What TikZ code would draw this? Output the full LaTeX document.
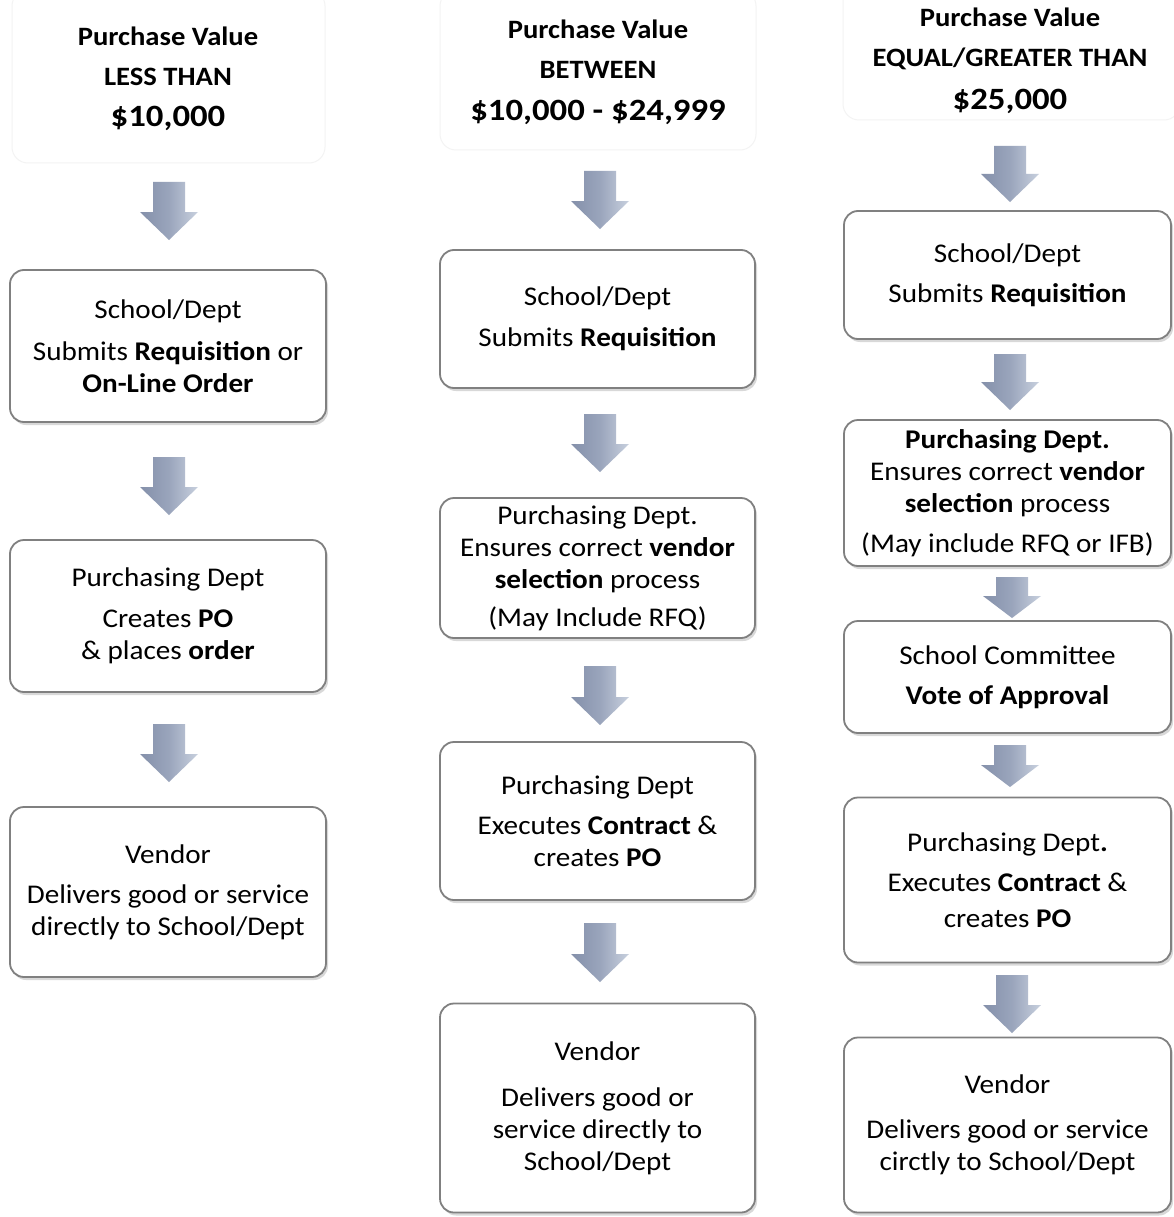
\documentclass[tikz,border=0pt]{standalone}
\usepackage{fontspec}
\setmainfont{Carlito}[FakeStretch=1.08]
\newfontfamily\dollarfont{Carlito}[FakeStretch=1.12]
\usetikzlibrary{shadows}
\definecolor{boxline}{HTML}{808080}
\definecolor{arrowL}{HTML}{8490AA}
\definecolor{arrowM}{HTML}{9AA5BC}
\definecolor{arrowR}{HTML}{C8D0DE}
\definecolor{titleframe}{HTML}{F3F3F3}
% block arrow: name, x centre, y top, y bottom, head height
\newcommand\blockarrow[5]{%
  \shade[left color=arrowL, right color=arrowR, middle color=arrowM]
    ({#2-16},{#3}) -- ({#2+16},{#3}) -- ({#2+16},{#4-#5}) -- ({#2+29},{#4-#5})
    -- ({#2},{#4}) -- ({#2-29},{#4-#5}) -- ({#2-16},{#4-#5}) -- cycle;
  \coordinate (#1) at ({#2},{(#3+#4)/2});}
\begin{document}
\begin{tikzpicture}[x=1pt,y=-1pt,
  stepbox/.style={draw=boxline, line width=1.8pt, rounded corners=14pt, fill=white,
    align=center, inner sep=0pt, font=\fontsize{27}{32}\selectfont,
    drop shadow={shadow xshift=2pt, shadow yshift=-3pt, opacity=0.3}},
  titletext/.style={align=center, inner sep=0pt, font=\bfseries\fontsize{26.5}{40}\selectfont}
]
\useasboundingbox (0,0) rectangle (1173,1217);
\fill[white] (0,0) rectangle (1173,1217);

% faint title frames
\draw[titleframe, line width=1pt, rounded corners=16pt] (12,-10) rectangle (325,163);
\draw[titleframe, line width=1pt, rounded corners=16pt] (440,-10) rectangle (756,150);
\draw[titleframe, line width=1pt, rounded corners=16pt] (843,-20) rectangle (1180,120);

% ---------- Column 1 ----------
\node[titletext] (t1) at (168,79) {Purchase Value\\LESS THAN\\[1pt]{\dollarfont\fontsize{31}{40}\selectfont \$10,000}};
\node[stepbox, minimum width=316pt, minimum height=152pt] (b11) at (168,346)
  {School/Dept\\[10pt]Submits \textbf{Requisition} or\\\textbf{On-Line Order}};
\node[stepbox, minimum width=316pt, minimum height=152pt] (b12) at (168,616)
  {Purchasing Dept\\[9pt]Creates \textbf{PO}\\\& places \textbf{order}};
\node[stepbox, minimum width=316pt, minimum height=170pt] (b13) at (168,892)
  {Vendor\\[8pt]Delivers good or service\\directly to School/Dept};
\blockarrow{a10}{169}{182}{240}{28}
\blockarrow{a11}{169}{457}{515}{28}
\blockarrow{a12}{169}{724}{782}{28}

% ---------- Column 2 ----------
\node[titletext] (t2) at (598,72) {Purchase Value\\BETWEEN\\[2pt]{\dollarfont\fontsize{31}{40}\selectfont \$10,000 - \$24,999}};
\node[stepbox, minimum width=315pt, minimum height=138pt] (b21) at (597.5,319)
  {School/Dept\\[9pt]Submits \textbf{Requisition}};
\node[stepbox, minimum width=315pt, minimum height=140pt] (b22) at (597.5,568)
  {Purchasing Dept.\\Ensures correct \textbf{vendor}\\\textbf{selection} process\\[6pt](May Include RFQ)};
\node[stepbox, minimum width=315pt, minimum height=158pt] (b23) at (597.5,821)
  {Purchasing Dept\\[8pt]Executes \textbf{Contract} \&\\creates \textbf{PO}};
\node[stepbox, minimum width=315pt, minimum height=209pt] (b24) at (597.5,1108)
  {Vendor\\[14pt]Delivers good or\\service directly to\\School/Dept};
\blockarrow{a20}{600}{171}{229}{28}
\blockarrow{a21}{600}{414}{472}{28}
\blockarrow{a22}{600}{666}{725}{28}
\blockarrow{a23}{600}{923}{982}{28}

% ---------- Column 3 ----------
\node[titletext] (t3) at (1010,61) {Purchase Value\\EQUAL/GREATER THAN\\[3pt]{\dollarfont\fontsize{31}{40}\selectfont \$25,000}};
\node[stepbox, minimum width=327pt, minimum height=128pt] (b31) at (1007.5,275)
  {School/Dept\\[8pt]Submits \textbf{Requisition}};
\node[stepbox, minimum width=327pt, minimum height=146pt] (b32) at (1007.5,493)
  {\textbf{Purchasing Dept.}\\Ensures correct \textbf{vendor}\\\textbf{selection} process\\[8pt](May include RFQ or IFB)};
\node[stepbox, minimum width=327pt, minimum height=112pt] (b33) at (1007.5,677)
  {School Committee\\[8pt]\textbf{Vote of Approval}};
\node[stepbox, minimum width=327pt, minimum height=165pt] (b34) at (1007.5,880)
  {Purchasing Dept\textbf{.}\\[8pt]Executes \textbf{Contract} \&\\[4pt]creates \textbf{PO}};
\node[stepbox, minimum width=327pt, minimum height=175pt] (b35) at (1007.5,1125)
  {Vendor\\[13pt]Delivers good or service\\circtly to School/Dept};
\blockarrow{a30}{1010}{146}{202}{28}
\blockarrow{a31}{1010}{354}{410}{28}
\blockarrow{a32}{1012}{577}{618}{22}
\blockarrow{a33}{1010}{745}{787}{22}
\blockarrow{a34}{1012}{975}{1033}{28}
\end{tikzpicture}
\end{document}
